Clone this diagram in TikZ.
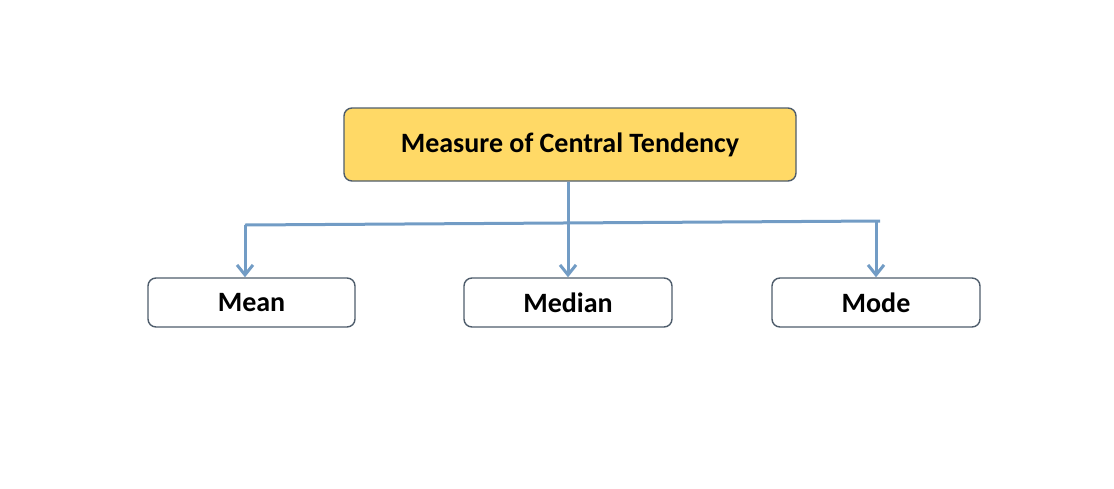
\documentclass[tikz,border=0pt]{standalone}
\usepackage{fontspec}
\setmainfont{Carlito}
\usetikzlibrary{arrows.meta}
\definecolor{topfill}{HTML}{FFD966}
\definecolor{boxline}{HTML}{4F5D6C}
\definecolor{conn}{HTML}{729CC5}
\tikzset{
  box/.style={draw=boxline, line width=1.4pt, rounded corners=8pt, inner sep=0pt,
    font=\fontsize{28}{32}\selectfont\bfseries, text=black},
  link/.style={draw=conn, line width=3pt, -{Straight Barb[length=10pt,width=16pt,line width=3pt]}},
  bar/.style={draw=conn, line width=3pt},
}
\begin{document}
\begin{tikzpicture}[x=1pt,y=-1pt]
\useasboundingbox (0,0) rectangle (1114,488);
\node[box, fill=topfill, minimum width=452pt, minimum height=73pt] (top) at (570,144.5) {Measure of Central Tendency};
\node[box, fill=white, minimum width=207pt, minimum height=49pt] (mean) at (251.5,302.5) {Mean};
\node[box, fill=white, minimum width=208pt, minimum height=49pt] (median) at (568,302.5) {Median};
\node[box, fill=white, minimum width=208pt, minimum height=49pt] (mode) at (876,302.5) {Mode};
\coordinate (bl) at (245,225);
\coordinate (br) at (880,221);
\draw[bar] (bl) -- (br);
\draw[link] (top.south -| median.north) -- (median.north);
\draw[link] (bl) -- (bl |- mean.north);
\draw[link] (876,221) -- (mode.north -| 876,0);
\end{tikzpicture}
\end{document}
